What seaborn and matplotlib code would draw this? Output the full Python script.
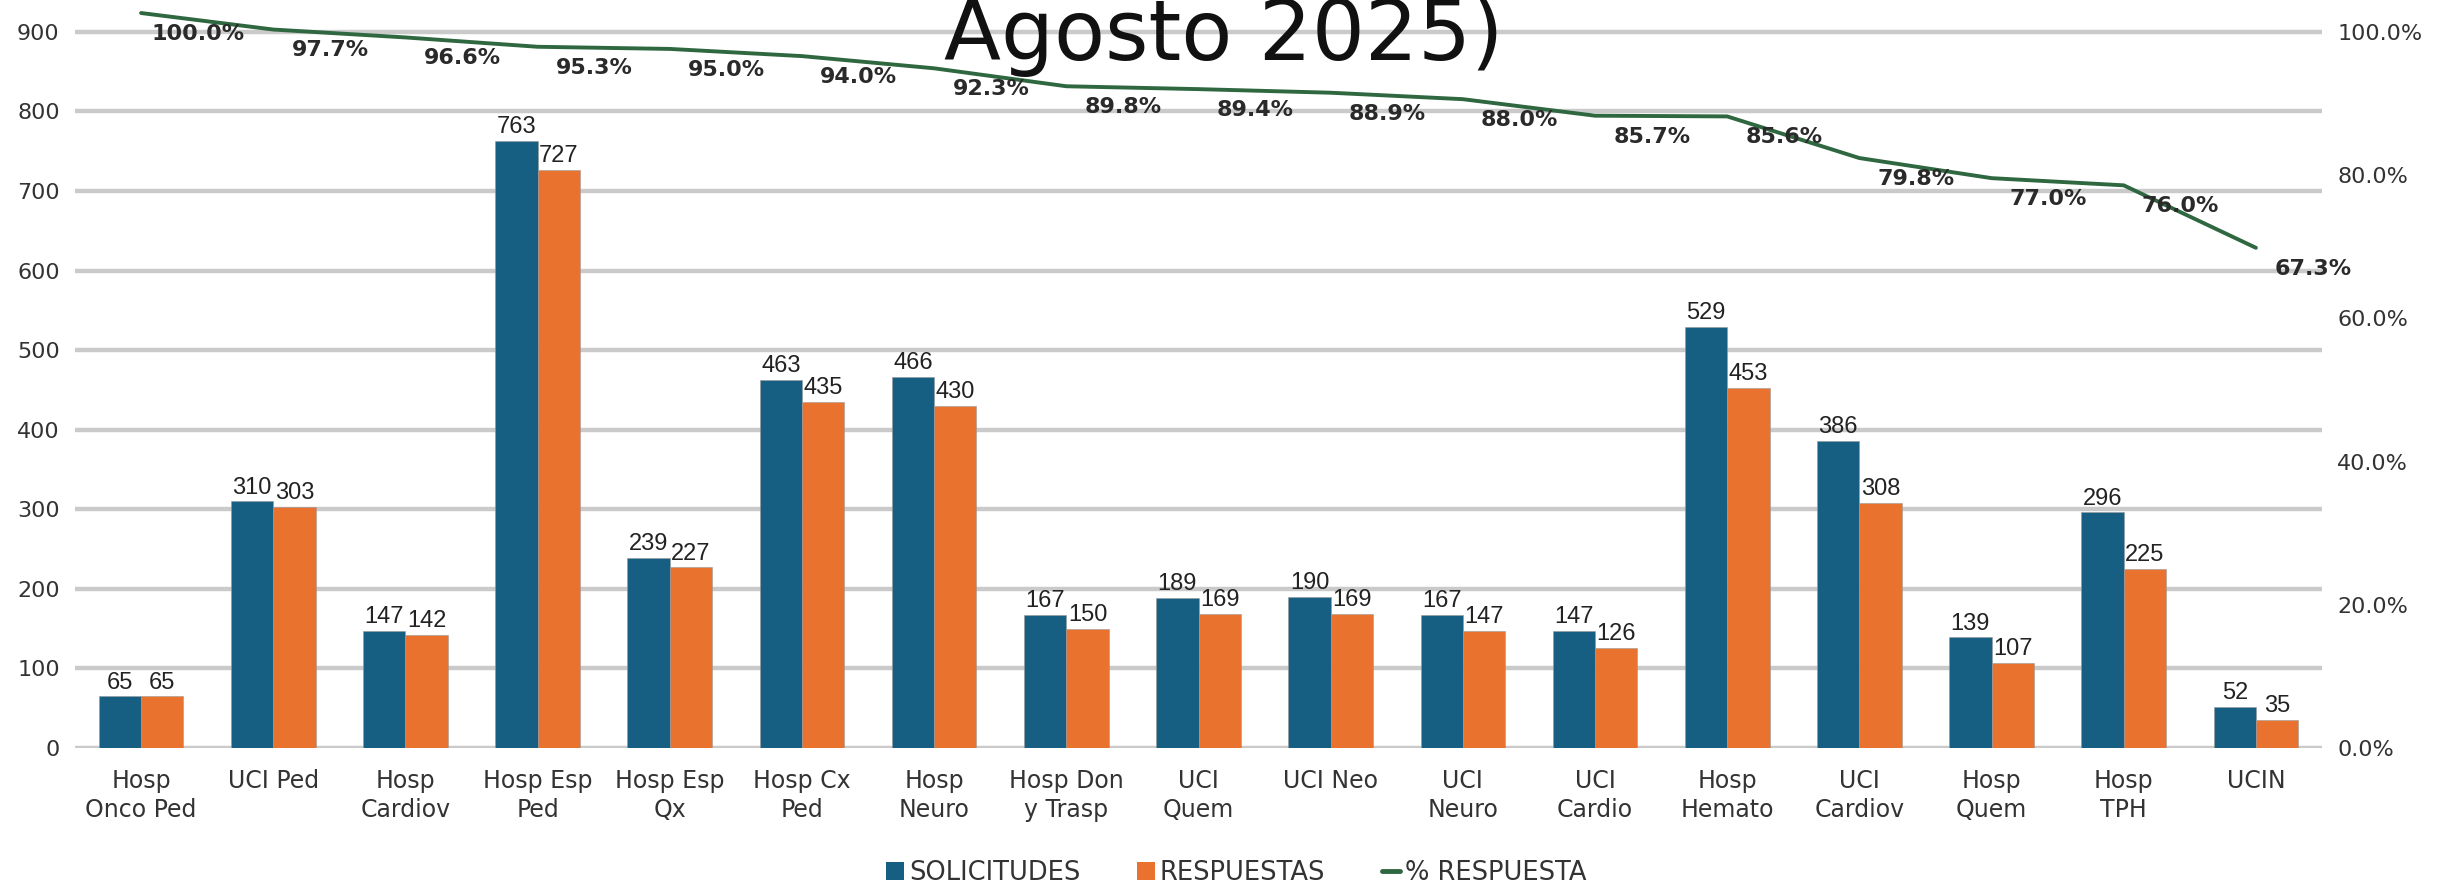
import numpy as np
import pandas as pd
import matplotlib
matplotlib.use("Agg")
import matplotlib.pyplot as plt
import seaborn as sns
from matplotlib.ticker import FuncFormatter
from matplotlib.lines import Line2D
from matplotlib.patches import Patch

# ---------------- data ----------------
categorias = ["Hosp\nOnco Ped", "UCI Ped", "Hosp\nCardiov", "Hosp Esp\nPed", "Hosp Esp\nQx",
              "Hosp Cx\nPed", "Hosp\nNeuro", "Hosp Don\ny Trasp", "UCI\nQuem", "UCI Neo",
              "UCI\nNeuro", "UCI\nCardio", "Hosp\nHemato", "UCI\nCardiov", "Hosp\nQuem",
              "Hosp\nTPH", "UCIN"]
solicitudes = [65, 310, 147, 763, 239, 463, 466, 167, 189, 190, 167, 147, 529, 386, 139, 296, 52]
respuestas = [65, 303, 142, 727, 227, 435, 430, 150, 169, 169, 147, 126, 453, 308, 107, 225, 35]
pct_respuesta = [1.000, 0.977, 0.966, 0.953, 0.950, 0.940, 0.923, 0.898, 0.894, 0.889,
                 0.880, 0.857, 0.856, 0.798, 0.770, 0.760, 0.673]
series = ["SOLICITUDES", "RESPUESTAS"]
linea_nombre = "% RESPUESTA"
titulo = "Agosto 2025)"

BLUE = "#165e82"
ORANGE = "#e8722e"
GREEN = "#2f6840"
GRID = "#cacaca"
TXT = "#222222"

df = pd.DataFrame({
    "categoria": categorias * 2,
    "valor": solicitudes + respuestas,
    "serie": [series[0]] * len(categorias) + [series[1]] * len(categorias),
})

sns.set_theme(style="white")
plt.rcParams["font.family"] = ["DejaVu Sans"]

W, H = 2438, 884
fig = plt.figure(figsize=(W / 100, H / 100), dpi=100)
ax = fig.add_axes([75 / W, 1 - 748 / H, (2322 - 75) / W, 740 / H])

sns.barplot(data=df, x="categoria", y="valor", hue="serie", palette=[BLUE, ORANGE],
            width=0.64, gap=0, ax=ax, legend=False, saturation=1,
            edgecolor="#9a9a9a", linewidth=0.4, zorder=3)

for cont in ax.containers:
    ax.bar_label(cont, padding=2, fontsize=17, family=["Liberation Sans", "DejaVu Sans"],
                 color=TXT, zorder=5)

ax.set_xlim(-0.5, len(categorias) - 0.5)
ax.set_ylim(0, 930)
ax.set_yticks(np.arange(0, 901, 100))
ax.grid(axis="y", color=GRID, linewidth=3.2, zorder=0)
ax.grid(axis="x", visible=False)
for s in ax.spines.values():
    s.set_visible(False)
ax.set_xlabel("")
ax.set_ylabel("")
ax.tick_params(axis="y", labelsize=16, pad=11, length=0, labelcolor="#333333")
ax.tick_params(axis="x", labelsize=17, pad=15, length=0, labelcolor="#333333")
for lab in ax.get_xticklabels():
    lab.set_linespacing(1.25)

# right percentage axis (tick labels)
ax2 = ax.twinx()
ax2.set_ylim(0, 930 / 900)
ax2.set_yticks(np.arange(0, 1.01, 0.2))
ax2.yaxis.set_major_formatter(FuncFormatter(lambda v, p: f"{v * 100:.1f}%"))
ax2.tick_params(axis="y", labelsize=16, pad=11, length=0, labelcolor="#333333")
ax2.grid(False)
for s in ax2.spines.values():
    s.set_visible(False)

# line series
ax3 = ax.twinx()
ax3.set_ylim(-0.0237, 1.007)
ax3.axis("off")
xpos = np.arange(len(categorias))
sns.lineplot(x=xpos, y=pct_respuesta, ax=ax3, color=GREEN, linewidth=2.8, legend=False)
for xi, v in zip(xpos, pct_respuesta):
    ax3.annotate(f"{v * 100:.1f}%", (xi, v), xytext=(41, -15), textcoords="offset points",
                 ha="center", va="center", fontsize=16, fontweight="bold", color="#2a2a2a")

fig.text(1224 / W, 1 - 60 / H, titulo, ha="center", va="baseline", fontsize=60,
         color="#111111")

handles = [Patch(facecolor=BLUE, edgecolor="none"), Patch(facecolor=ORANGE, edgecolor="none"),
           Line2D([0], [0], color=GREEN, linewidth=3.5)]
fig.legend(handles, series + [linea_nombre], loc="center",
           bbox_to_anchor=(1236 / W, 1 - 873 / H), ncol=3, frameon=False, fontsize=18.5,
           handlelength=0.7, handleheight=0.7, handletextpad=0.2, columnspacing=2.2,
           labelcolor="#333333")

fig.savefig("out.png", dpi=100)
